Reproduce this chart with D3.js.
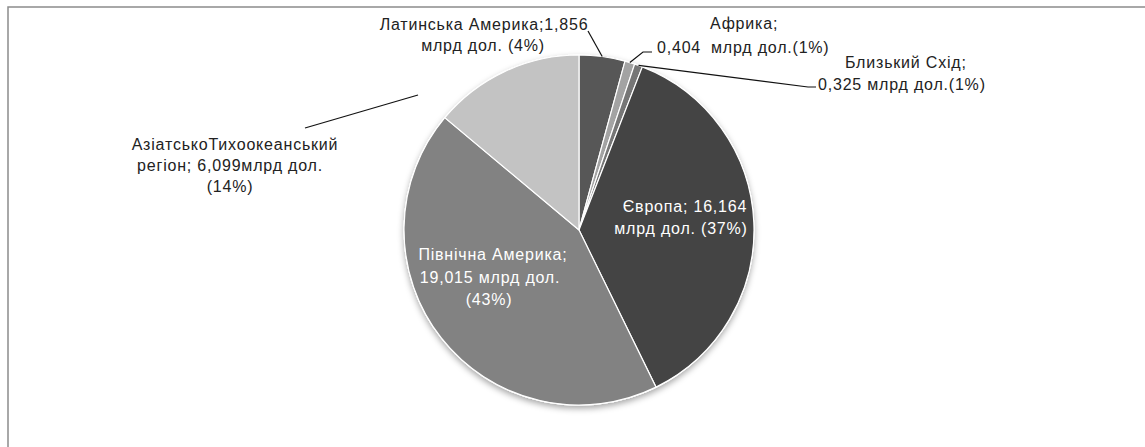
<!DOCTYPE html>
<html>
<head>
<meta charset="utf-8">
<script src="https://cdn.jsdelivr.net/npm/d3@7"></script>
<style>
  body { margin: 0; background: #fff; }
  text { font-family: "Liberation Sans", Arial, sans-serif; font-size: 16px; letter-spacing: 0.8px; }
</style>
</head>
<body>
<svg id="regionPie" width="1145" height="447"></svg>
<script>
// data
var regions = ["Латинська Америка", "Африка", "Близький Схід", "Європа", "Північна Америка", "Азіатсько-Тихоокеанський регіон"];
var values = [1.856, 0.404, 0.325, 16.164, 19.015, 6.099];
var percents = ["4%", "1%", "1%", "37%", "43%", "14%"];
var sliceColors = ["#575757", "#a3a3a3", "#767676", "#444444", "#828282", "#c3c3c3"];

// label text pieces as they appear in the chart
var labelLines = [
    ["Латинська Америка;1,856", "млрд дол. (4%)"],
    ["Африка;", "0,404", "млрд дол.(1%)"],
    ["Близький Схід;", "0,325 млрд дол.(1%)"],
    ["Європа; 16,164", "млрд дол. (37%)"],
    ["Північна Америка;", "19,015 млрд дол.", "(43%)"],
    ["АзіатськоТихоокеанський", "регіон; 6,099млрд дол.", "(14%)"]
];

var svg = d3.select("#regionPie");
var width = +svg.attr("width"), height = +svg.attr("height");
var cx = 579, cy = 230, radius = 175;

// chart frame
svg.append("rect")
    .attr("x", 8).attr("y", 7)
    .attr("width", width + 10).attr("height", height + 10)
    .attr("fill", "none")
    .attr("stroke", "#8c8c8c")
    .attr("stroke-width", 1.5);

var defs = svg.append("defs");
var shadow = defs.append("filter").attr("id", "pieShadow")
    .attr("x", "-20%").attr("y", "-20%").attr("width", "140%").attr("height", "140%");
shadow.append("feDropShadow")
    .attr("dx", 0).attr("dy", 3).attr("stdDeviation", 3)
    .attr("flood-color", "#000").attr("flood-opacity", 0.35);

var pie = d3.pie().sort(null).value(function (d) { return d; });
var arcs = pie(values);
var arc = d3.arc().innerRadius(0).outerRadius(radius);
var edgeArc = d3.arc().innerRadius(radius).outerRadius(radius);
var color = d3.scaleOrdinal().domain(regions).range(sliceColors);

var g = svg.append("g").attr("transform", "translate(" + cx + "," + cy + ")");

g.append("circle")
    .attr("r", radius + 0.5)
    .attr("fill", "#fff")
    .attr("filter", "url(#pieShadow)");

g.selectAll("path.slice")
    .data(arcs)
    .join("path")
    .attr("class", "slice")
    .attr("d", arc)
    .attr("fill", function (d, i) { return color(regions[i]); })
    .attr("stroke", "#fff")
    .attr("stroke-width", 1.2);

// label placement: one [x, y, anchor] per text piece, colour, leader points
var labelLayout = [
    { pos: [[484, 30, "middle"], [483, 51, "middle"]], fill: "#222", leader: [[588, 31]] },
    { pos: [[710, 29, "start"], [657, 53, "start"], [711, 53, "start"]], fill: "#222", leader: [[643, 52], [652, 52]] },
    { pos: [[845, 68, "start"], [818, 90, "start"]], fill: "#222", leader: [[808, 87], [816, 87]] },
    { pos: [[685, 212, "middle"], [681, 234, "middle"]], fill: "#fff", leader: null },
    { pos: [[493, 260, "middle"], [490, 283, "middle"], [489, 305, "middle"]], fill: "#fff", leader: null },
    { pos: [[235, 150, "middle"], [230, 171, "middle"], [230, 192, "middle"]], fill: "#222", leader: [[305, 128]], start: [418, 95] }
];

var labels = svg.append("g");
arcs.forEach(function (d, i) {
    var lay = labelLayout[i];
    if (lay.leader) {
        var p = edgeArc.centroid(d);
        var start = lay.start ? lay.start : [cx + p[0], cy + p[1]];
        labels.append("path")
            .attr("d", d3.line()([start].concat(lay.leader)))
            .attr("fill", "none")
            .attr("stroke", "#111")
            .attr("stroke-width", 1.2);
    }
    labelLines[i].forEach(function (line, j) {
        labels.append("text")
            .attr("x", lay.pos[j][0])
            .attr("y", lay.pos[j][1])
            .attr("text-anchor", lay.pos[j][2])
            .attr("fill", lay.fill)
            .text(line);
    });
});
</script>
</body>
</html>
